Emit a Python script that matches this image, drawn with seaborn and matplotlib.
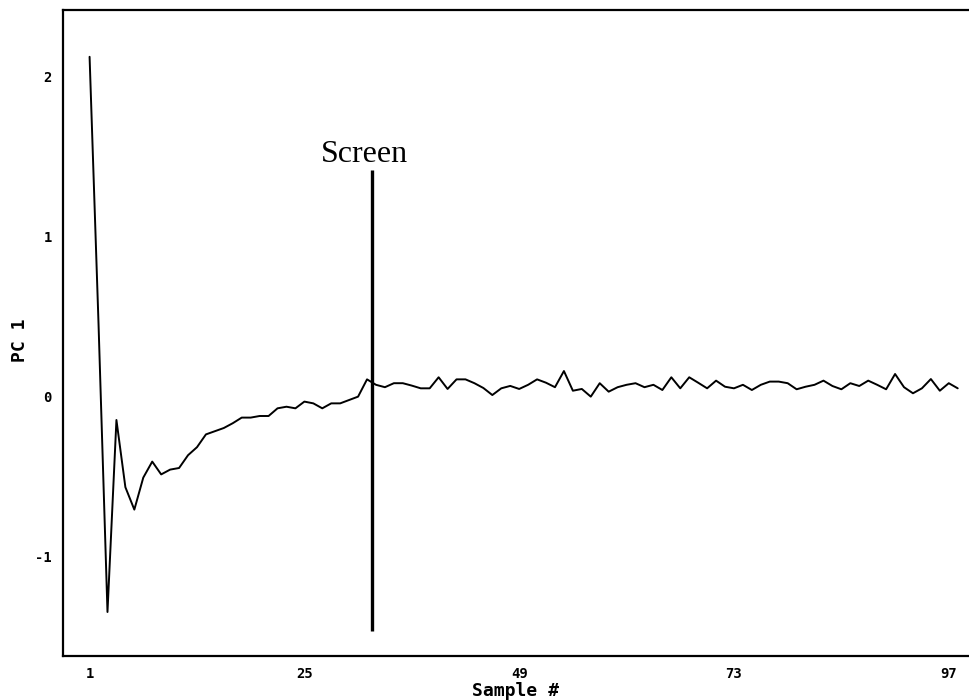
import matplotlib
matplotlib.use("Agg")
import matplotlib.pyplot as plt
import numpy as np
import pandas as pd
import seaborn as sns

# PC 1 score for each sample, in sample order
samples = list(range(1, 99))
pc1 = [
    2.12, 0.45, -1.35, -0.15, -0.57, -0.71, -0.51, -0.41, -0.49, -0.46,
    -0.45, -0.37, -0.32, -0.24, -0.22, -0.20, -0.17, -0.135, -0.135, -0.125,
    -0.125, -0.077, -0.067, -0.077, -0.035, -0.046, -0.077, -0.046, -0.046, -0.025,
    -0.004, 0.104, 0.07, 0.055, 0.08, 0.08, 0.065, 0.048, 0.048, 0.117,
    0.044, 0.104, 0.104, 0.08, 0.05, 0.006, 0.048, 0.063, 0.044, 0.07,
    0.104, 0.083, 0.055, 0.156, 0.033, 0.044, -0.004, 0.08, 0.027, 0.055,
    0.07, 0.08, 0.055, 0.07, 0.0375, 0.117, 0.048, 0.117, 0.083, 0.048,
    0.096, 0.058, 0.048, 0.07, 0.0375, 0.07, 0.09, 0.09, 0.08, 0.042,
    0.058, 0.07, 0.096, 0.0625, 0.042, 0.08, 0.0625, 0.096, 0.07, 0.042,
    0.1375, 0.055, 0.017, 0.048, 0.106, 0.033, 0.08, 0.048,
]

x_major = [1, 25, 49, 73, 97]
x_minor = [13, 37, 61, 85]
y_major = [-1, 0, 1, 2]
y_labels = ["-1", "0", "1", "2"]

screen_at = 32.5
screen_span = (-1.47, 1.41)
screen_label = "Screen"

df = pd.DataFrame({"Sample #": samples, "PC 1": pc1})

sns.set_style("white")
plt.rcParams["font.family"] = ["DejaVu Sans Mono", "DejaVu Sans"]

fig = plt.figure(figsize=(9.69, 7.0), dpi=100)
ax = fig.add_axes([63 / 969, 44 / 700, 906 / 969, 646 / 700])

sns.lineplot(data=df, x="Sample #", y="PC 1", ax=ax, color="black",
             linewidth=1.4, estimator=None)

ax.vlines(screen_at, screen_span[0], screen_span[1], color="black", linewidth=2.4)
ax.text(31.7, 1.46, screen_label, ha="center", va="baseline",
        fontsize=23, family="Liberation Serif", color="black")

ax.set_xlim(-1.97, 99.26)
ax.set_ylim(-1.625, 2.4125)

ax.set_xticks(x_major)
ax.set_xticks(x_minor, minor=True)
ax.set_xticklabels([str(v) for v in x_major])
ax.set_yticks(y_major)
ax.set_yticklabels(y_labels)

ax.tick_params(axis="both", which="major", direction="out", length=5, width=1.5,
               labelsize=10, colors="black", pad=3)
ax.tick_params(axis="x", which="minor", direction="out", length=5, width=1.5,
               colors="black")
for lbl in ax.get_xticklabels() + ax.get_yticklabels():
    lbl.set_fontweight("bold")

ax.set_xlabel("Sample #", fontsize=13, fontweight="bold", color="black", labelpad=1)
ax.set_ylabel("PC 1", fontsize=13, fontweight="bold", color="black")
ax.yaxis.set_label_coords(-0.047, 0.489)
ax.yaxis.label.set_verticalalignment("center")

for side in ("left", "bottom", "top"):
    ax.spines[side].set_visible(True)
    ax.spines[side].set_color("black")
    ax.spines[side].set_linewidth(1.6)
ax.spines["right"].set_visible(False)

fig.savefig("out.png", dpi=100, facecolor="white")
